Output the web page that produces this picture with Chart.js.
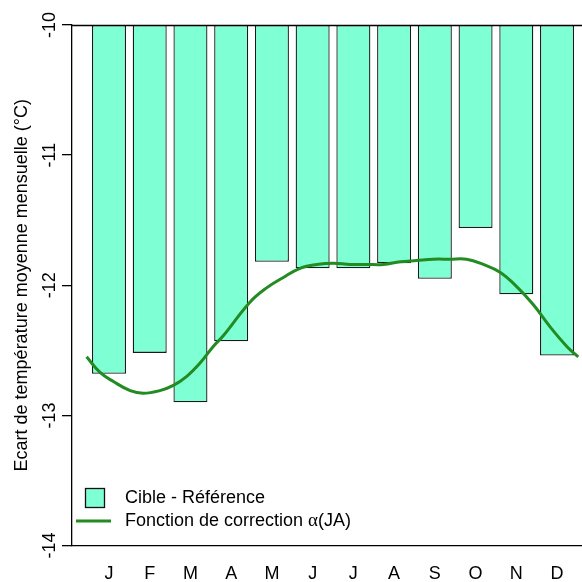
<!DOCTYPE html>
<html>
<head>
<meta charset="utf-8">
<script src="https://cdn.jsdelivr.net/npm/chart.js@4/dist/chart.umd.min.js"></script>
<style>
  html, body { margin: 0; padding: 0; background: #ffffff; }
  #wrap { width: 582px; height: 582px; }
</style>
</head>
<body>
<div id="wrap"><canvas id="c" width="582" height="582"></canvas></div>
<script>
// ---- data ----
const months = ['J','F','M','A','M','J','J','A','S','O','N','D'];
const diffValues = [-12.68,-12.52,-12.90,-12.43,-11.82,-11.87,-11.87,-11.83,-11.95,-11.56,-12.07,-12.54];
const baseValue = -10;
// correction function, x in month units (0 = January centre)
const corrX = [-0.55,-0.22,0.11,0.52,0.84,1.25,1.58,1.91,2.23,2.56,2.80,3.46,3.87,4.28,4.69,5.10,5.51,5.92,6.33,6.74,7.15,7.55,7.96,8.37,8.78,9.19,9.60,10.01,10.42,10.83,11.24,11.52];
const corrY = [-12.55,-12.67,-12.74,-12.81,-12.83,-12.81,-12.77,-12.70,-12.60,-12.47,-12.39,-12.13,-12.02,-11.94,-11.87,-11.84,-11.83,-11.84,-11.84,-11.84,-11.82,-11.81,-11.80,-11.80,-11.80,-11.84,-11.90,-12.01,-12.15,-12.32,-12.47,-12.55];
const yTicks = [-14,-13,-12,-11,-10];
const yTitle = 'Ecart de température moyenne mensuelle (°C)';
const legendBar = 'Cible - Référence';
const legendLine = ['Fonction de correction ', 'α', '(JA)'];

const FONT = '"Liberation Sans", Arial, sans-serif';
const SERIF = '"Liberation Serif", "Times New Roman", serif';
const BAR_FILL = '#7FFFD4';
const LINE_COL = '#228B22';

const barData = diffValues.map((v, i) => ({ x: i, y: [baseValue, v] }));
const lineData = corrX.map((x, i) => ({ x: x, y: corrY[i] }));

const extras = {
  id: 'extras',
  afterDraw(chart) {
    const ctx = chart.ctx;
    const ys = chart.scales.y;
    const ca = chart.chartArea;
    ctx.save();
    // top reference line at -10
    const yTop = Math.round(ys.getPixelForValue(baseValue)) + 0.5;
    ctx.strokeStyle = '#000';
    ctx.lineWidth = 1.3;
    ctx.beginPath();
    ctx.moveTo(ca.left, yTop);
    ctx.lineTo(chart.width, yTop);
    ctx.stroke();
    // rotated y tick labels
    ctx.fillStyle = '#000';
    ctx.font = '18px ' + FONT;
    ctx.textAlign = 'center';
    ctx.textBaseline = 'middle';
    yTicks.forEach(t => {
      const py = ys.getPixelForValue(t);
      ctx.save();
      ctx.translate(50, py);
      ctx.rotate(-Math.PI / 2);
      ctx.fillText(String(t), 0, 0);
      ctx.restore();
    });
    // legend
    ctx.fillStyle = BAR_FILL;
    ctx.strokeStyle = '#111';
    ctx.lineWidth = 1.3;
    ctx.fillRect(85.5, 488.5, 19, 19);
    ctx.strokeRect(85.5, 488.5, 19, 19);
    ctx.strokeStyle = LINE_COL;
    ctx.lineWidth = 3;
    ctx.beginPath();
    ctx.moveTo(76, 521);
    ctx.lineTo(111, 521);
    ctx.stroke();
    ctx.fillStyle = '#000';
    ctx.textAlign = 'left';
    ctx.textBaseline = 'middle';
    ctx.font = '18px ' + FONT;
    ctx.fillText(legendBar, 125, 498);
    let x = 125;
    ctx.fillText(legendLine[0], x, 521);
    x += ctx.measureText(legendLine[0]).width;
    ctx.font = '19px ' + SERIF;
    ctx.fillText(legendLine[1], x, 521);
    x += ctx.measureText(legendLine[1]).width;
    ctx.font = '18px ' + FONT;
    ctx.fillText(legendLine[2], x, 521);
    ctx.restore();
  }
};

new Chart(document.getElementById('c'), {
  data: {
    datasets: [
      {
        type: 'line',
        data: lineData,
        borderColor: LINE_COL,
        borderWidth: 3,
        pointRadius: 0,
        tension: 0.4,
        fill: false,
        order: 0
      },
      {
        type: 'bar',
        data: barData,
        backgroundColor: BAR_FILL,
        borderColor: '#1a1a1a',
        borderWidth: 1.3,
        borderSkipped: false,
        barPercentage: 0.835,
        categoryPercentage: 1.0,
        order: 1
      }
    ]
  },
  options: {
    responsive: false,
    animation: false,
    devicePixelRatio: 1,
    layout: { padding: { top: 25, right: 0, left: 0, bottom: 0 } },
    plugins: { legend: { display: false }, tooltip: { enabled: false } },
    scales: {
      x: {
        type: 'linear',
        position: 'bottom',
        min: -0.908,
        max: 11.613,
        offset: false,
        afterFit: s => { s.height = 36.5; },
        grid: { display: true, drawOnChartArea: false, drawTicks: false },
        border: { display: true, color: '#000', width: 1.3 },
        ticks: {
          stepSize: 1,
          includeBounds: false,
          autoSkip: false,
          maxRotation: 0,
          padding: 18,
          color: '#000',
          font: { family: FONT, size: 18 },
          callback: v => (Number.isInteger(v) && v >= 0 && v < months.length) ? months[v] : ''
        }
      },
      y: {
        min: -14,
        max: -10,
        afterFit: s => { s.width = 72; },
        grid: { display: true, drawOnChartArea: false, drawTicks: true, tickLength: 10, color: '#000', lineWidth: 1.3 },
        border: { display: true, color: '#000', width: 1.3 },
        ticks: { stepSize: 1, display: false },
        title: {
          display: true,
          text: yTitle,
          color: '#000',
          font: { family: FONT, size: 18 },
          padding: { top: 11, bottom: 0 }
        }
      }
    }
  },
  plugins: [extras]
});
</script>
</body>
</html>
